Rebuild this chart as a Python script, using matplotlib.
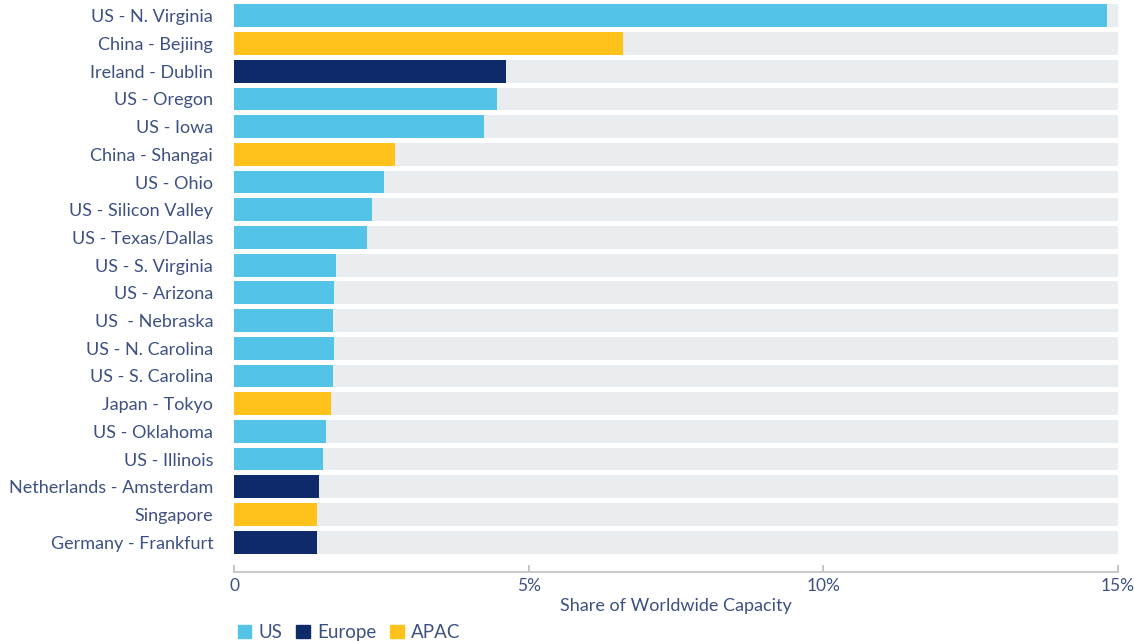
import matplotlib.pyplot as plt
from matplotlib.patches import Patch

regions = ['US - N. Virginia', 'China - Bejiing', 'Ireland - Dublin', 'US - Oregon', 'US - Iowa',
           'China - Shangai', 'US - Ohio', 'US - Silicon Valley', 'US - Texas/Dallas', 'US - S. Virginia',
           'US - Arizona', 'US  - Nebraska', 'US - N. Carolina', 'US - S. Carolina', 'Japan - Tokyo',
           'US - Oklahoma', 'US - Illinois', 'Netherlands - Amsterdam', 'Singapore', 'Germany - Frankfurt']
share = [14.81, 6.60, 4.62, 4.46, 4.24, 2.73, 2.55, 2.34, 2.26, 1.73,
         1.70, 1.68, 1.70, 1.68, 1.65, 1.56, 1.51, 1.44, 1.41, 1.41]
group = ['US', 'APAC', 'Europe', 'US', 'US', 'APAC', 'US', 'US', 'US', 'US',
         'US', 'US', 'US', 'US', 'APAC', 'US', 'US', 'Europe', 'APAC', 'Europe']
groups = ['US', 'Europe', 'APAC']
xticks = [0, 5, 10, 15]
xticklabels = ['0', '5%', '10%', '15%']

colors = {'US': '#53C4E8', 'Europe': '#0F2A6B', 'APAC': '#FFC21A'}
text_col = '#3D5082'
plt.rcParams['font.family'] = ['Lato', 'DejaVu Sans']

fig = plt.figure(figsize=(11.34, 6.41), dpi=100)
ax = fig.add_axes([234/1134, 1-556/641, 884/1134, 554/641])

y = range(len(regions))
# grey track behind each bar
ax.barh(y, [15]*len(regions), height=0.82, color='#EAEDF0')
ax.barh(y, share, height=0.82, color=[colors[g] for g in group])

ax.set_xlim(0, 15)
ax.set_ylim(len(regions)-0.5, -0.5)
ax.set_yticks(list(y))
ax.set_yticklabels(regions, fontsize=13, color=text_col)
ax.tick_params(axis='y', length=0, pad=15)
ax.set_xticks(xticks)
ax.set_xticklabels(xticklabels)
ax.tick_params(axis='x', direction='in', length=5, width=1.5, color='#C8C8C8',
               labelsize=12.5, labelcolor=text_col, pad=4)
for s in ['top', 'right', 'left']:
    ax.spines[s].set_visible(False)
ax.spines['bottom'].set_position(('outward', 11.5))
ax.spines['bottom'].set_color('#C8C8C8')
ax.spines['bottom'].set_linewidth(1.5)
ax.set_xlabel('Share of Worldwide Capacity', fontsize=13, color=text_col, labelpad=3)

handles = [Patch(color=colors[g], label=g) for g in groups]
fig.legend(handles=handles, loc='lower left', bbox_to_anchor=(221/1134, -0.027), ncol=3,
           frameon=False, fontsize=13.5, labelcolor=text_col, handlelength=0.7, handleheight=0.7,
           handletextpad=0.4, columnspacing=0.75)

plt.savefig('out.png', dpi=100)
